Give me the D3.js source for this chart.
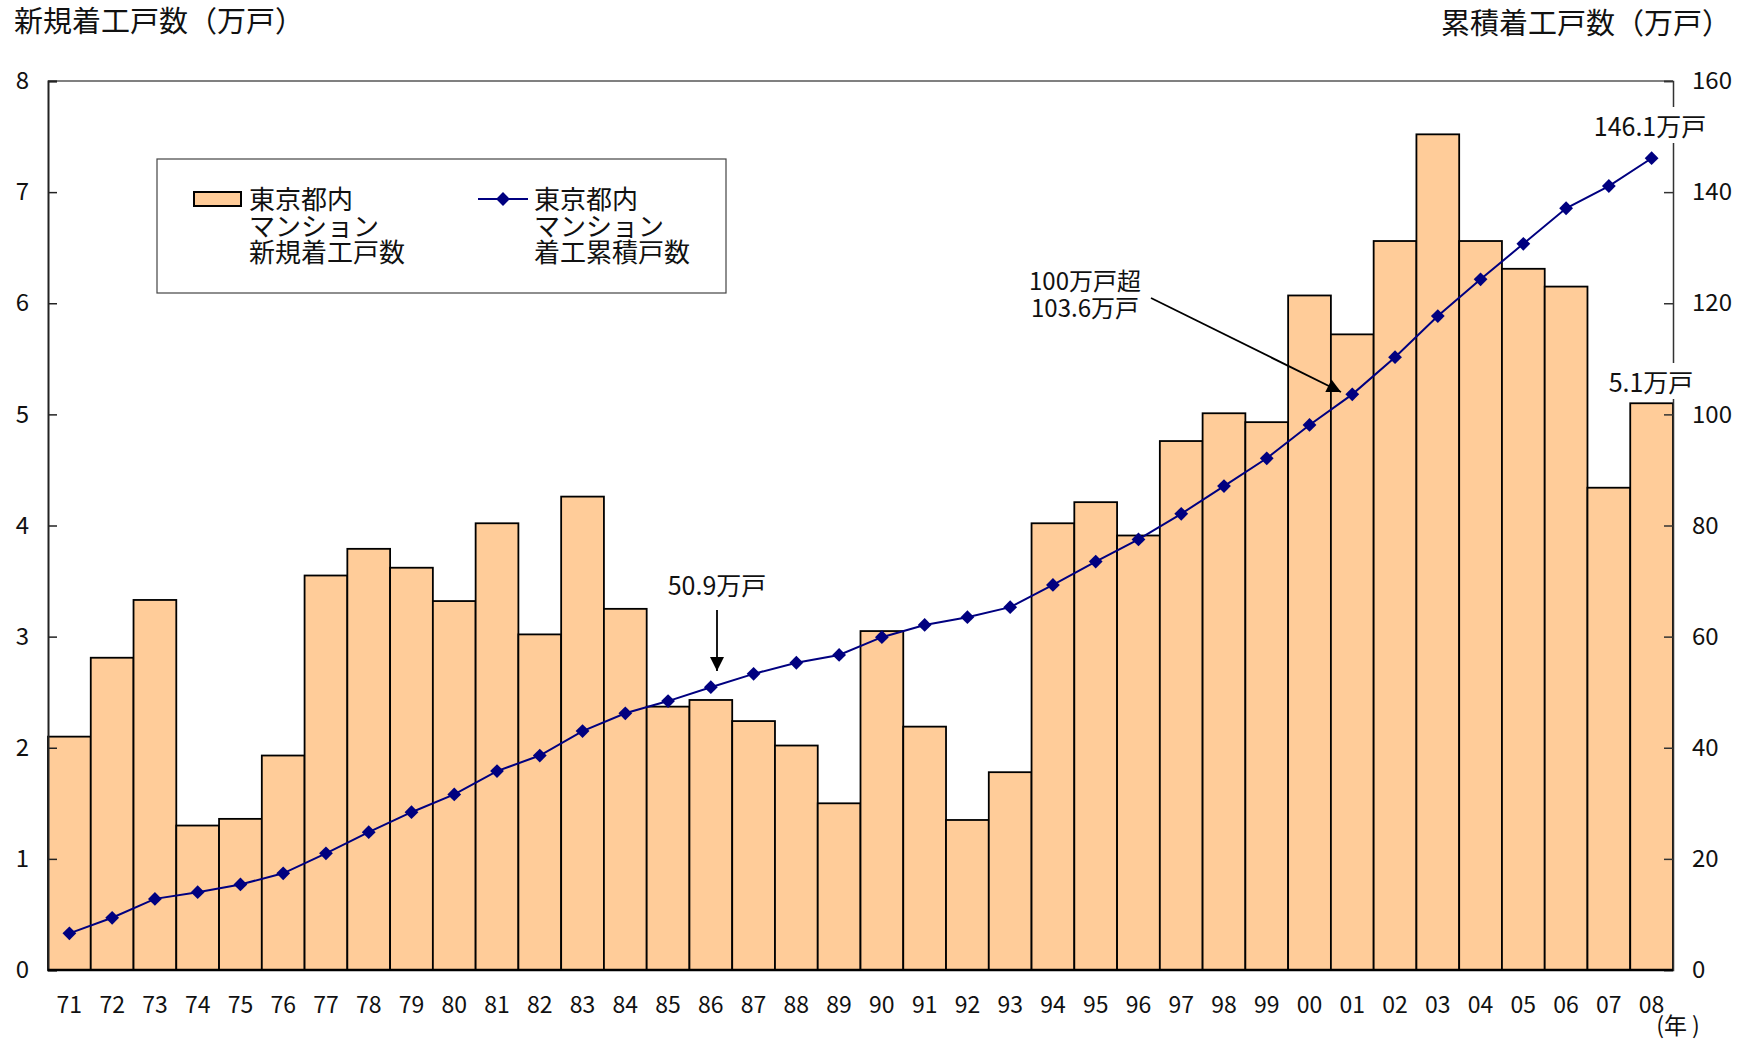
<!DOCTYPE html>
<html><head><meta charset="utf-8">
<script src="https://cdn.jsdelivr.net/npm/d3@7"></script>
<style>
body{margin:0;background:#fff;}
svg{display:block;}
text{font-family:"Noto Sans CJK JP","Noto Sans",sans-serif;fill:#111;}
.num{font-family:"Liberation Sans Narrow","Noto Sans CJK JP",sans-serif;}
</style></head><body>
<script>
const years = ["71","72","73","74","75","76","77","78","79","80","81","82","83","84","85","86","87","88","89","90","91","92","93","94","95","96","97","98","99","00","01","02","03","04","05","06","07","08"];
const newStarts = [2.10,2.81,3.33,1.30,1.36,1.93,3.55,3.79,3.62,3.32,4.02,3.02,4.26,3.25,2.37,2.43,2.24,2.02,1.50,3.05,2.19,1.35,1.78,4.02,4.21,3.91,4.76,5.01,4.93,6.07,5.72,6.56,7.52,6.56,6.31,6.15,4.34,5.10];
const cumulative = [6.6,9.4,12.8,14.0,15.4,17.4,21.0,24.8,28.4,31.6,35.8,38.6,43.0,46.2,48.4,50.9,53.3,55.3,56.7,59.9,62.1,63.5,65.3,69.3,73.5,77.5,82.1,87.1,92.1,98.1,103.6,110.3,117.7,124.3,130.7,137.1,141.1,146.1];
const leftTicks = [0,1,2,3,4,5,6,7,8];
const rightTicks = [0,20,40,60,80,100,120,140,160];
const leftTitle = "新規着工戸数（万戸）";
const rightTitle = "累積着工戸数（万戸）";
const legendBar = ["東京都内","マンション","新規着工戸数"];
const legendLine = ["東京都内","マンション","着工累積戸数"];
const yearUnit = "(年 )";

const W=1744,H=1039;
const M={l:48,r:1673,t:81,b:970};
const svg=d3.select("body").append("svg").attr("width",W).attr("height",H);

const x=d3.scaleBand().domain(years).range([M.l,M.r]).padding(0);
const yL=d3.scaleLinear().domain([0,8]).range([M.b,M.t]);
const yR=d3.scaleLinear().domain([0,160]).range([M.b,M.t]);

// bars
svg.append("g").selectAll("rect").data(years).join("rect")
  .attr("x",d=>x(d)).attr("width",x.bandwidth())
  .attr("y",(d,i)=>yL(newStarts[i])).attr("height",(d,i)=>M.b-yL(newStarts[i]))
  .attr("fill","#FFCC99").attr("stroke","#000").attr("stroke-width",1.8);

// top border
svg.append("line").attr("x1",M.l).attr("x2",M.r).attr("y1",M.t).attr("y2",M.t)
  .attr("stroke","#808080").attr("stroke-width",2);

// left axis
const gl=svg.append("g").attr("transform",`translate(${M.l},0)`)
  .call(d3.axisLeft(yL).tickValues(leftTicks).tickSize(-9).tickPadding(19).tickFormat(d3.format("d")));
gl.select(".domain").attr("stroke","#222").attr("stroke-width",2);
gl.selectAll(".tick line").attr("stroke","#222").attr("stroke-width",1.5);
gl.selectAll("text").attr("class","num").style("font-size","24px").attr("fill","#111");

// right axis
const gr=svg.append("g").attr("transform",`translate(${M.r},0)`)
  .call(d3.axisRight(yR).tickValues(rightTicks).tickSize(-9).tickPadding(19).tickFormat(d3.format("d")));
gr.select(".domain").attr("stroke","#333").attr("stroke-width",1.5);
gr.selectAll(".tick line").attr("stroke","#333").attr("stroke-width",1.5);
gr.selectAll("text").attr("class","num").style("font-size","24px").attr("fill","#111");

// bottom axis line
svg.append("line").attr("x1",M.l).attr("x2",M.r).attr("y1",M.b).attr("y2",M.b)
  .attr("stroke","#000").attr("stroke-width",2.5);

// x labels
svg.append("g").selectAll("text").data(years).join("text")
  .attr("class","num").attr("x",d=>x(d)+x.bandwidth()/2).attr("y",1013)
  .attr("text-anchor","middle").style("font-size","23px").text(d=>d);
svg.append("text").attr("x",1678).attr("y",1034).attr("text-anchor","middle")
  .style("font-size","23px").text(yearUnit);

// line
const cx=d=>x(d)+x.bandwidth()/2;
svg.append("path").datum(years)
  .attr("d",d3.line().x(cx).y((d,i)=>yR(cumulative[i])))
  .attr("fill","none").attr("stroke","#000080").attr("stroke-width",2);
svg.append("g").selectAll("path").data(years).join("path")
  .attr("d",d3.symbol().type(d3.symbolSquare).size(95))
  .attr("transform",(d,i)=>`translate(${cx(d)},${yR(cumulative[i])}) rotate(45)`)
  .attr("fill","#000080");

// titles
svg.append("text").attr("x",14).attr("y",32).style("font-size","29px").text(leftTitle);
svg.append("text").attr("x",1731).attr("y",34).attr("text-anchor","end").style("font-size","29px").text(rightTitle);

// legend
svg.append("rect").attr("x",157).attr("y",159).attr("width",569).attr("height",134)
  .attr("fill","#fff").attr("stroke","#444").attr("stroke-width",1.2);
svg.append("rect").attr("x",194).attr("y",192).attr("width",47).attr("height",14)
  .attr("fill","#FFCC99").attr("stroke","#000").attr("stroke-width",2);
svg.append("line").attr("x1",478).attr("x2",528).attr("y1",199).attr("y2",199)
  .attr("stroke","#000080").attr("stroke-width",2);
svg.append("path").attr("d",d3.symbol().type(d3.symbolSquare).size(95)())
  .attr("transform","translate(503,199) rotate(45)").attr("fill","#000080");
function multi(lines,xp){
  const t=svg.append("text").attr("x",xp).attr("y",209).style("font-size","26px");
  lines.forEach((s,i)=>t.append("tspan").attr("x",xp).attr("dy",i?26.5:0).text(s));
}
multi(legendBar,249);
multi(legendLine,534);

// annotations
function label(txt,cxp,yb,bg){
  const t=svg.append("text").attr("x",cxp).attr("y",yb).attr("text-anchor","middle").style("font-size","25px").text(txt);
  if(bg){const b=t.node().getBBox();
    svg.insert("rect",()=>t.node()).attr("x",b.x-2).attr("y",b.y).attr("width",b.width+4).attr("height",b.height).attr("fill","#fff");}
  return t;
}
label("50.9万戸",717,595,false);
const t100=svg.append("text").attr("x",1085).attr("y",290).attr("text-anchor","middle").style("font-size","24px");
t100.append("tspan").attr("x",1085).text("100万戸超");
t100.append("tspan").attr("x",1085).attr("dy",27).text("103.6万戸");
label("146.1万戸",1650,136,true);
label("5.1万戸",1651,392,true);

// arrows
svg.append("defs").append("marker").attr("id","ah").attr("viewBox","0 0 10 10")
  .attr("refX",10).attr("refY",5).attr("markerWidth",16).attr("markerHeight",14)
  .attr("markerUnits","userSpaceOnUse").attr("orient","auto")
  .append("path").attr("d","M0,0L10,5L0,10z").attr("fill","#000");
svg.append("line").attr("x1",717).attr("y1",610).attr("x2",717).attr("y2",671)
  .attr("stroke","#000").attr("stroke-width",1.8).attr("marker-end","url(#ah)");
svg.append("line").attr("x1",1151).attr("y1",298).attr("x2",1341).attr("y2",392)
  .attr("stroke","#000").attr("stroke-width",1.8).attr("marker-end","url(#ah)");
</script>
</body></html>
